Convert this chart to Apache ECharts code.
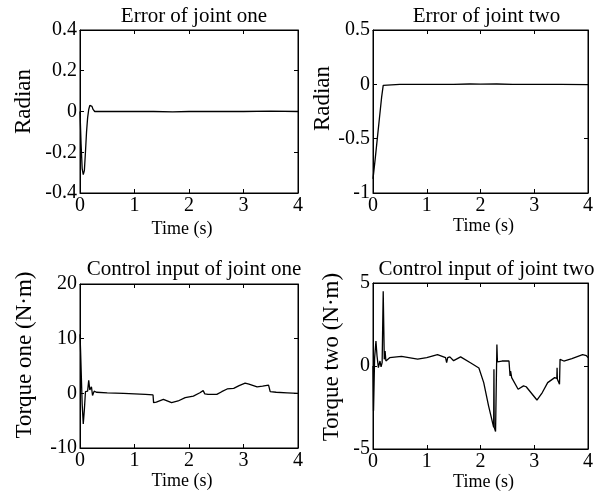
<!DOCTYPE html>
<html>
<head>
<meta charset="utf-8">
<script src="https://cdn.jsdelivr.net/npm/echarts@6/dist/echarts.min.js"></script>
<style>html,body{margin:0;padding:0;background:#fff;}#c{width:596px;height:495px;}</style>
</head>
<body>
<div id="c"></div>
<script>
// ---- Data ----
const titles = ['Error of joint one', 'Error of joint two', 'Control input of joint one', 'Control input of joint two'];
const yNames = ['Radian', 'Radian', 'Torque one (N\u00b7m)', 'Torque two (N\u00b7m)'];
const xName = 'Time (s)';
const xRange = [0, 4, 1];
const yRange1 = [-0.4, 0.4, 0.2];
const yRange2 = [-1, 0.5, 0.5];
const yRange3 = [-10, 20, 10];
const yRange4 = [-5, 5, 5];

const t1 = [0, 0.02, 0.04, 0.06, 0.08, 0.1, 0.12, 0.14, 0.16, 0.18, 0.2, 0.22, 0.24, 0.27, 0.3, 0.5, 1.0, 1.35, 1.7, 2.0, 2.3, 2.6, 3.0, 3.5, 4.0];
const e1 = [0, -0.16, -0.28, -0.31, -0.29, -0.2, -0.1, -0.03, 0.01, 0.03, 0.035, 0.025, 0.01, 0, -0.002, 0, 0, 0, -0.002, 0, 0, 0, 0, 0.002, 0];

const t2 = [0, 0.04, 0.08, 0.12, 0.16, 0.19, 0.22, 0.5, 1.0, 1.5, 1.8, 2.0, 2.3, 2.6, 3.0, 3.5, 4.0];
const e2 = [-0.87, -0.69, -0.5, -0.31, -0.12, -0.01, 0, 0, 0, 0, 0.003, 0.002, 0.003, 0, 0, 0, -0.002];

const t3 = [0, 0.01, 0.04, 0.06, 0.08, 0.1, 0.12, 0.14, 0.16, 0.18, 0.2, 0.21, 0.23, 0.26, 0.28, 0.3, 0.5, 0.8, 1.0, 1.2, 1.34, 1.35, 1.4, 1.53, 1.68, 1.8, 1.93, 2.08, 2.2, 2.26, 2.28, 2.29, 2.35, 2.51, 2.6, 2.7, 2.82, 2.92, 3.03, 3.1, 3.25, 3.35, 3.46, 3.48, 3.49, 3.6, 3.8, 4.0];
const u1 = [10.8, 8, -2, -5.6, -3, 0.3, 0.5, 0.4, 2.4, 0.6, 0.5, 1.2, -0.4, 0.4, 0.2, 0.2, 0.1, 0, -0.1, -0.2, -0.3, -1.7, -1.6, -1.1, -1.7, -1.4, -0.8, -0.5, 0.1, 0.5, 0.7, -0.1, -0.2, -0.2, 0.3, 0.8, 0.9, 1.4, 1.85, 1.7, 1.2, 1.3, 1.5, 1.5, 0.3, 0.2, 0.1, 0];

const t4 = [0, 0.01, 0.03, 0.055, 0.075, 0.1, 0.13, 0.15, 0.17, 0.19, 0.21, 0.225, 0.24, 0.27, 0.31, 0.53, 0.83, 1.0, 1.2, 1.35, 1.37, 1.39, 1.43, 1.5, 1.63, 1.82, 1.97, 2.06, 2.15, 2.245, 2.25, 2.255, 2.28, 2.305, 2.315, 2.4, 2.53, 2.55, 2.56, 2.58, 2.7, 2.8, 2.85, 3.05, 3.15, 3.25, 3.38, 3.42, 3.425, 3.43, 3.47, 3.48, 3.55, 3.7, 3.9, 3.97, 4.0];
const u2 = [0, -2.7, 0.5, 1.5, 0.6, -0.1, 0.3, -0.05, 0.2, 4.5, 0.4, 0.9, 0.3, 0.4, 0.5, 0.58, 0.42, 0.5, 0.68, 0.5, 0.2, 0.5, 0.55, 0.32, 0.55, 0.18, -0.12, -1.0, -2.4, -3.7, -0.2, -3.7, -3.95, 1.3, 0.25, 0.3, 0.3, -0.6, -0.3, -0.7, -1.4, -1.2, -1.25, -2.05, -1.6, -1.0, -0.7, -0.75, -0.1, -0.8, -1.1, 0.4, 0.3, 0.45, 0.68, 0.62, 0.5];

const seriesT = [t1, t2, t3, t4];
const seriesV = [e1, e2, u1, u2];
const yRanges = [yRange1, yRange2, yRange3, yRange4];

// ---- Layout ----
const grids = [
  {left: 80, top: 30, width: 218, height: 163},
  {left: 373, top: 30, width: 217, height: 163},
  {left: 80, top: 284, width: 218, height: 164},
  {left: 373, top: 283, width: 217, height: 166}
];
const titleOffsets = [29, 29, 30, 29];
const xNameGaps = [27, 24, 19, 19];
const xNamePad = [[0, 14, 0, 0], [0, 0, 0, 6], [0, 14, 0, 0], [0, 0, 0, 6]];
const yNameGaps = [45, 30, 44, 30];
const yNamePad = [[0, 0, 0, 20], [0, 0, 0, 26], [0, 0, 0, 22], [0, 0, 0, 18]];
const FONT = 'Liberation Serif';
const black = '#000';

const option = {
  backgroundColor: '#fff',
  animation: false,
  title: [], grid: [], xAxis: [], yAxis: [], series: []
};

grids.forEach((g, i) => {
  option.grid.push(Object.assign({show: true, borderColor: black, borderWidth: 1, backgroundColor: '#fff'}, g));
  option.title.push({
    text: titles[i], left: g.left + g.width / 2, top: g.top - titleOffsets[i], textAlign: 'center',
    textStyle: {fontFamily: FONT, fontSize: 21, fontWeight: 'normal', color: black}
  });
  const tickStyle = {show: true, inside: true, length: 4, lineStyle: {color: black, width: 1}};
  const lineStyle = {show: true, onZero: false, lineStyle: {color: black, width: 1}};
  option.xAxis.push({
    type: 'value', gridIndex: i, min: xRange[0], max: xRange[1], interval: xRange[2],
    position: 'bottom',
    name: xName, nameLocation: 'middle', nameGap: xNameGaps[i],
    nameTextStyle: {fontFamily: FONT, fontSize: 18, color: black, padding: xNamePad[i]},
    axisLine: lineStyle,
    axisTick: tickStyle,
    axisLabel: {fontFamily: FONT, fontSize: 20, color: black, margin: 3},
    splitLine: {show: false}
  });
  option.xAxis.push({
    type: 'value', gridIndex: i, min: xRange[0], max: xRange[1], interval: xRange[2],
    position: 'top',
    axisLine: lineStyle,
    axisTick: tickStyle, axisLabel: {show: false}, splitLine: {show: false}
  });
  const r = yRanges[i];
  option.yAxis.push({
    type: 'value', gridIndex: i, min: r[0], max: r[1], interval: r[2],
    position: 'left',
    name: yNames[i], nameLocation: 'middle', nameGap: yNameGaps[i], nameRotate: 90,
    nameTextStyle: {fontFamily: FONT, fontSize: 23, color: black, padding: yNamePad[i]},
    axisLine: lineStyle,
    axisTick: tickStyle,
    axisLabel: {fontFamily: FONT, fontSize: 20, color: black, margin: 3},
    splitLine: {show: false}
  });
  option.yAxis.push({
    type: 'value', gridIndex: i, min: r[0], max: r[1], interval: r[2],
    position: 'right',
    axisLine: lineStyle,
    axisTick: tickStyle, axisLabel: {show: false}, splitLine: {show: false}
  });
  option.series.push({
    type: 'line', xAxisIndex: i * 2, yAxisIndex: i * 2,
    data: seriesT[i].map((t, k) => [t, seriesV[i][k]]),
    showSymbol: false, symbol: 'none',
    lineStyle: {color: black, width: 1.3},
    clip: true
  });
});

const chart = echarts.init(document.getElementById('c'), null, {renderer: 'canvas'});
chart.setOption(option);
</script>
</body>
</html>
